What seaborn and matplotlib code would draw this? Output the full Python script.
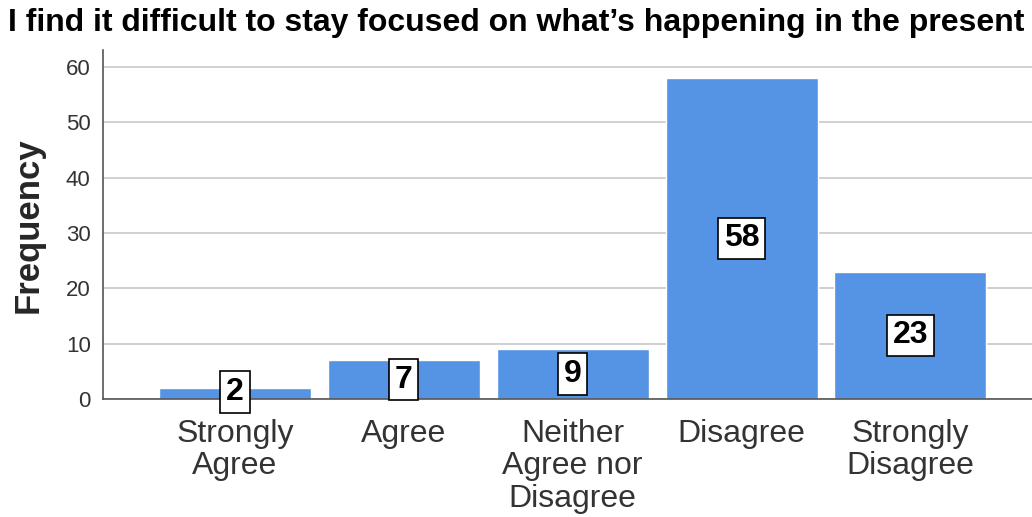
import matplotlib
matplotlib.use("Agg")
import matplotlib.pyplot as plt
import seaborn as sns
import pandas as pd

categories = ["Strongly\nAgree", "Agree", "Neither\nAgree nor\nDisagree", "Disagree", "Strongly\nDisagree"]
frequencies = [2, 7, 9, 58, 23]
y_ticks = [0, 10, 20, 30, 40, 50, 60]
title = "I find it difficult to stay focused on what\u2019s happening in the present"

sns.set_theme(style="white")
plt.rcParams["font.family"] = ["Liberation Sans", "DejaVu Sans"]

df = pd.DataFrame({"category": categories, "frequency": frequencies})

fig = plt.figure(figsize=(10.32, 5.17), dpi=100)
ax = fig.add_axes([0.1, 0.228, 0.9, 0.675])

sns.barplot(data=df, x="category", y="frequency", color="#5594E4",
            saturation=1, width=0.9, ax=ax, zorder=2)

ax.set_ylim(0, 63)
ax.set_xlim(-0.78, 4.72)
ax.set_yticks(y_ticks)
ax.yaxis.grid(True, color="#c8c8c8", linewidth=1.2, zorder=0)
ax.set_axisbelow(True)

for side in ("top", "right"):
    ax.spines[side].set_visible(False)
for side in ("left", "bottom"):
    ax.spines[side].set_color("#555555")
    ax.spines[side].set_linewidth(1.2)
    ax.spines[side].set_zorder(3)

ax.tick_params(axis="y", length=0, labelsize=16, pad=9, labelcolor="#333333")
ax.tick_params(axis="x", length=0, labelsize=23, pad=14, labelcolor="#333333")
for lbl in ax.get_xticklabels():
    lbl.set_linespacing(1.12)

ax.set_xlabel("")
ax.set_ylabel("Frequency", fontsize=25, fontweight="bold", labelpad=15)

for i, v in enumerate(frequencies):
    ax.text(i, max(v / 2, 1.3), str(v), ha="center", va="center",
            fontsize=23, fontweight="bold", color="black", zorder=5,
            bbox=dict(boxstyle="square,pad=0.18", facecolor="white",
                      edgecolor="black", linewidth=1.2))

fig.text(0.008, 0.955, title, ha="left", va="center",
         fontsize=23, fontweight="bold", color="black")

fig.savefig("out.png", dpi=100, facecolor="white")
